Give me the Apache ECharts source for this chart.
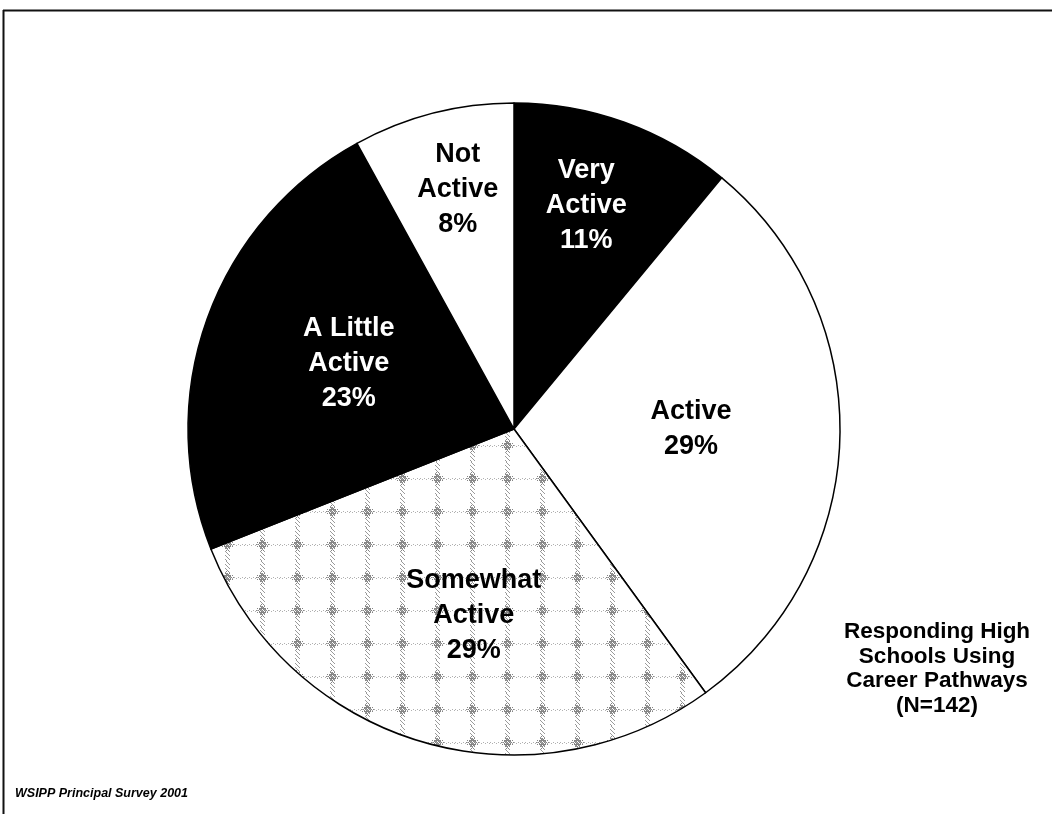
<!DOCTYPE html>
<html>
<head>
<meta charset="utf-8">
<script src="https://cdn.jsdelivr.net/npm/echarts@6/dist/echarts.min.js"></script>
<style>
html,body{margin:0;padding:0;background:#fff;}
#chart{width:1052px;height:814px;}
</style>
</head>
<body>
<div id="chart"></div>
<script>
// ---- data ----
const categories = ['Very\nActive', 'Active', 'Somewhat\nActive', 'A Little\nActive', 'Not\nActive'];
const values = [11, 29, 29, 23, 8];
const noteText = 'Responding High\nSchools Using\nCareer Pathways\n(N=142)';
const sourceText = 'WSIPP Principal Survey 2001';

// ---- style ----
function makePattern() {
  const c = document.createElement('canvas');
  c.width = 35; c.height = 33;
  const g = c.getContext('2d');
  g.fillStyle = '#ffffff';
  g.fillRect(0, 0, 35, 33);
  // vertical speckled band
  g.fillStyle = '#9a9a9a';
  for (let y = 0; y < 33; y++) {
    for (let x = 15; x <= 19; x++) {
      if (((x * 3 + y * 5) % 4) === 0) g.fillRect(x, y, 1, 1);
    }
  }
  // horizontal sparse row
  g.fillStyle = '#b0b0b0';
  for (let x = 0; x < 35; x += 2) g.fillRect(x, 16 + (x % 4 ? 1 : 0), 1, 1);
  // diffuse blob at crossing
  g.fillStyle = '#858585';
  for (let dy = -7; dy <= 7; dy++) {
    for (let dx = -7; dx <= 7; dx++) {
      const d = Math.abs(dx) + Math.abs(dy);
      if (d <= 4 && ((dx + dy) & 1) === 0) g.fillRect(17 + dx, 16 + dy, 1, 1);
      else if (d <= 7 && ((dx * 2 + dy * 3) % 4) === 0) g.fillRect(17 + dx, 16 + dy, 1, 1);
    }
  }
  return c;
}
const fills = ['#000000', '#ffffff', { image: makePattern(), repeat: 'repeat' }, '#000000', '#ffffff'];
const labelColors = ['#ffffff', '#000000', '#000000', '#ffffff', '#000000'];
const labelShift = [[16, -67], [11, -5], [6, 27], [-9, -9], [-15, -79]];

const chart = echarts.init(document.getElementById('chart'), null, { renderer: 'canvas' });
const FONT = '"Liberation Sans", Arial, Helvetica, sans-serif';

chart.setOption({
  backgroundColor: '#ffffff',
  animation: false,
  series: [{
    type: 'pie',
    center: [514, 429],
    radius: [0, 326],
    startAngle: 90,
    clockwise: true,
    avoidLabelOverlap: false,
    label: {
      show: true,
      position: 'inside',
      fontFamily: FONT,
      fontWeight: 'bold',
      fontSize: 27,
      lineHeight: 35,
      align: 'center',
      formatter: p => p.name + '\n' + p.value + '%'
    },
    labelLine: { show: false },
    labelLayout: p => ({ dx: labelShift[p.dataIndex][0], dy: labelShift[p.dataIndex][1] }),
    itemStyle: { borderColor: '#000000', borderWidth: 1.5 },
    emphasis: { disabled: true },
    data: categories.map((c, i) => ({
      name: c,
      value: values[i],
      itemStyle: { color: fills[i] },
      label: { color: labelColors[i] }
    }))
  }],
  graphic: [
    { type: 'line', shape: { x1: 3, y1: 10.5, x2: 1052, y2: 10.5 }, style: { stroke: '#111', lineWidth: 2 } },
    { type: 'line', shape: { x1: 3.5, y1: 10, x2: 3.5, y2: 814 }, style: { stroke: '#111', lineWidth: 2 } },
    { type: 'text', x: 937, y: 669, style: { text: noteText, fontFamily: FONT, fontWeight: 'bold', fontSize: 22.5, lineHeight: 24.5, fill: '#000', align: 'center', verticalAlign: 'middle' } },
    { type: 'text', x: 15, y: 794, style: { text: sourceText, fontFamily: FONT, fontStyle: 'italic', fontWeight: 'bold', fontSize: 12.5, fill: '#000', align: 'left', verticalAlign: 'middle' } }
  ]
});
</script>
</body>
</html>
